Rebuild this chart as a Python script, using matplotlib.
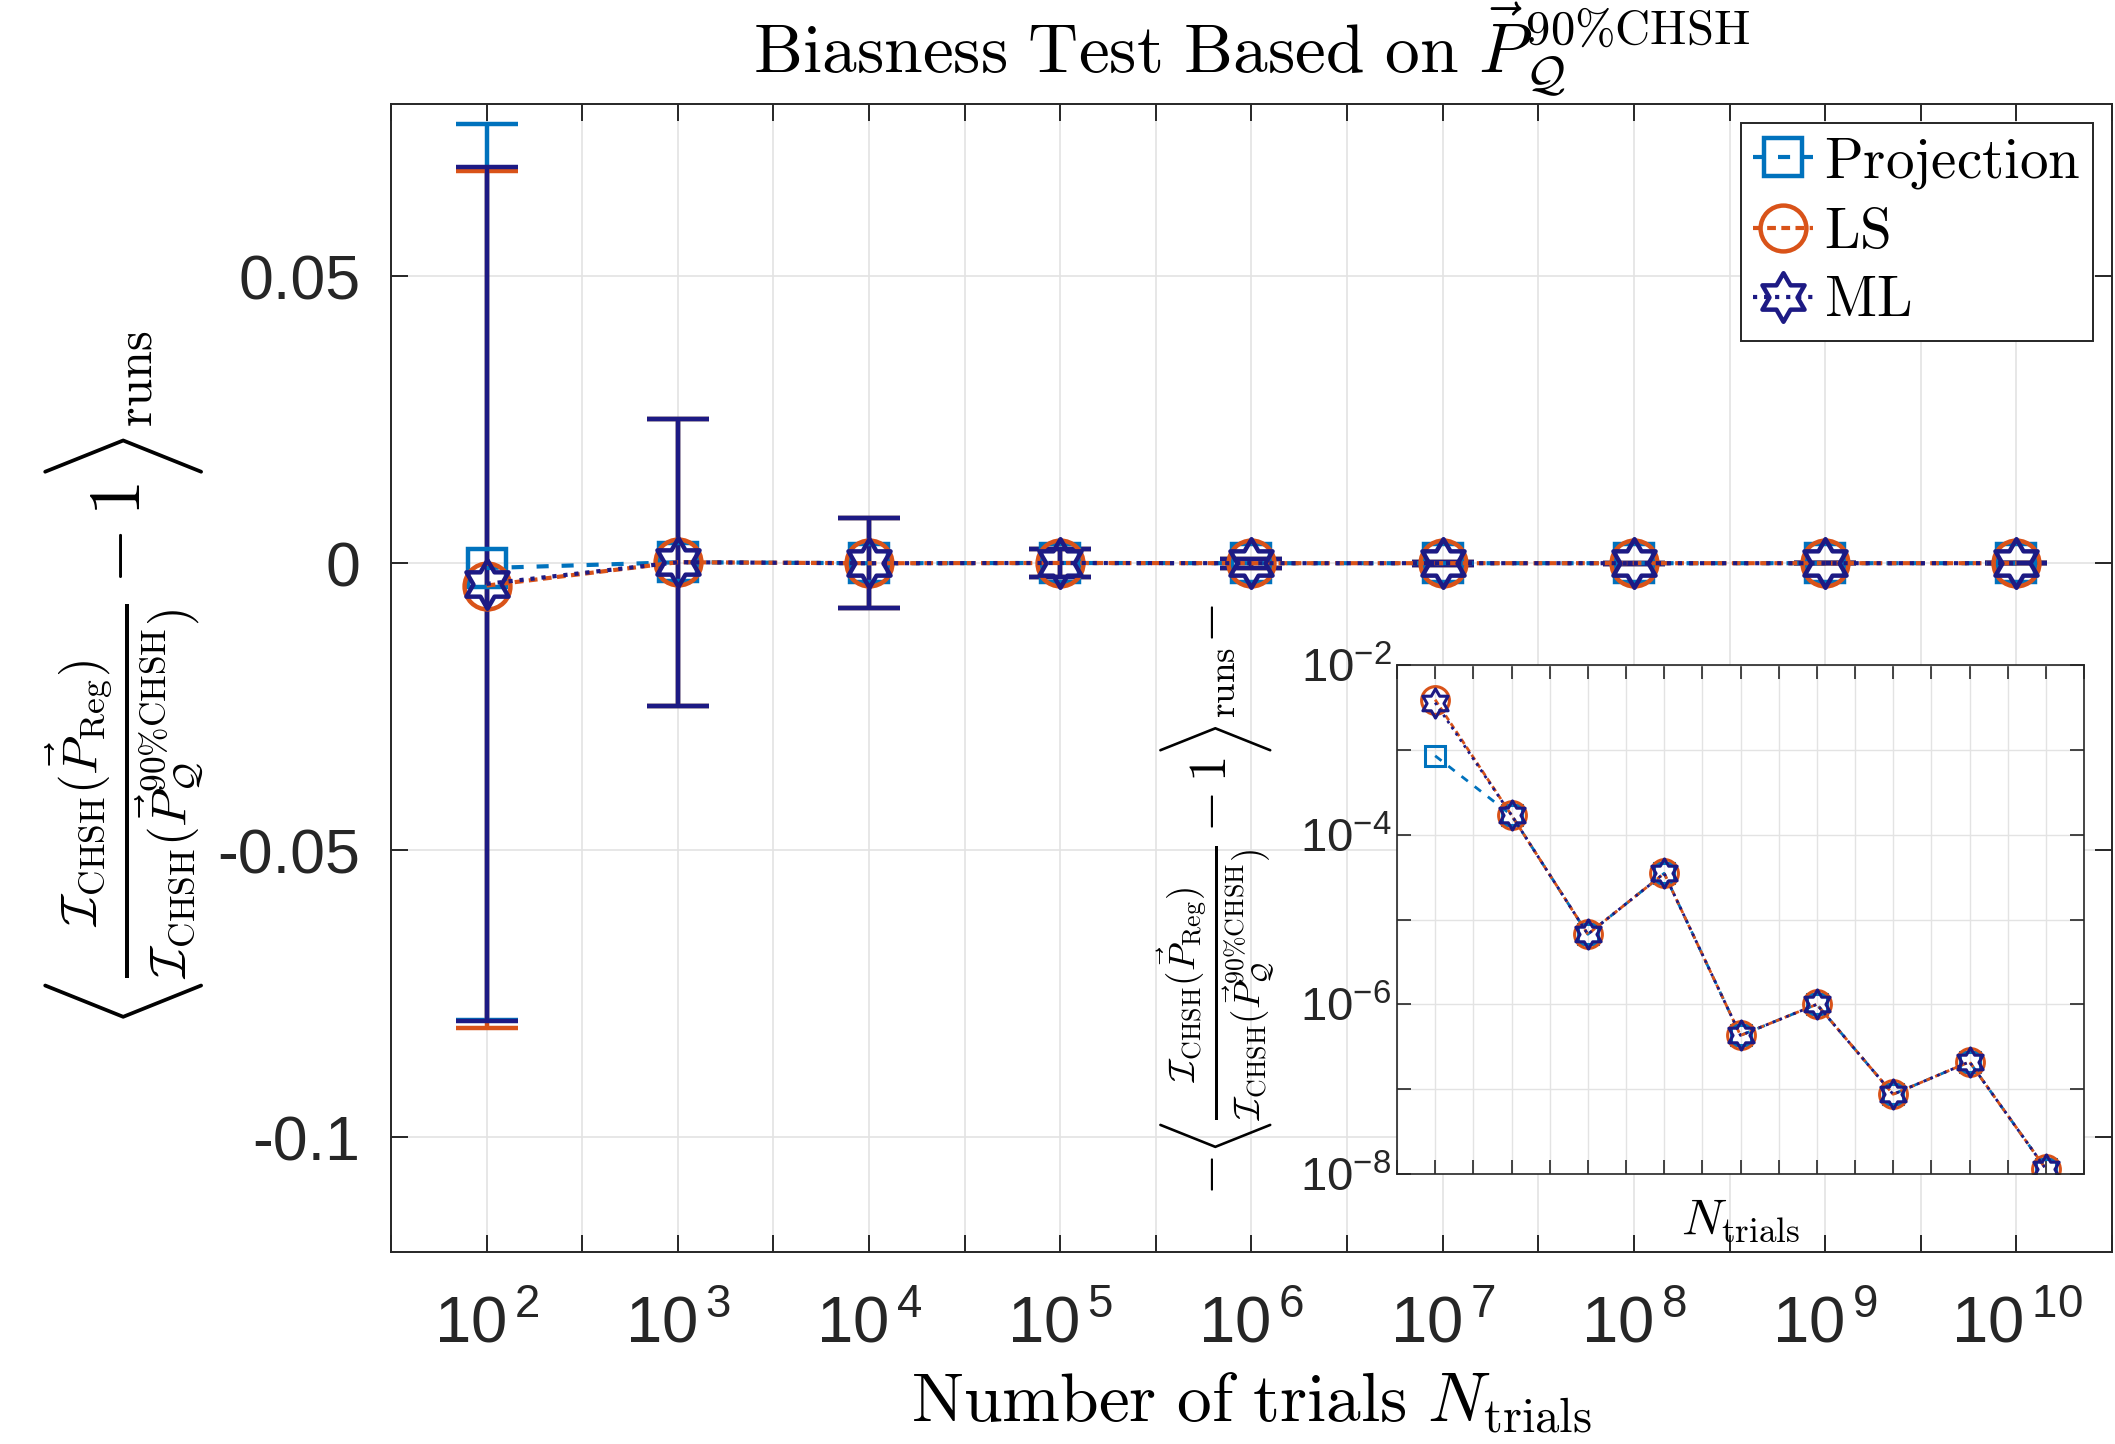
import numpy as np
import matplotlib
matplotlib.use("Agg")
import matplotlib.pyplot as plt
from matplotlib.path import Path
from matplotlib.ticker import FixedLocator, NullLocator

plt.rcParams['mathtext.fontset'] = 'cm'
plt.rcParams['mathtext.rm'] = 'Liberation Sans'
plt.rcParams['font.family'] = 'Liberation Sans'

# data
N = [1e2, 1e3, 1e4, 1e5, 1e6, 1e7, 1e8, 1e9, 1e10]

proj_mean = [-8.5e-4, 1.7e-4, -6.7e-6, 3.5e-5, -4.3e-7, 1.0e-6, -8.7e-8, 2.1e-7, -1.15e-8]
ls_mean = [-3.9e-3, 1.7e-4, -6.7e-6, 3.5e-5, -4.3e-7, 1.0e-6, -8.7e-8, 2.1e-7, -1.15e-8]
ml_mean = [-3.6e-3, 1.7e-4, -6.7e-6, 3.5e-5, -4.3e-7, 1.0e-6, -8.7e-8, 2.1e-7, -1.15e-8]

proj_err_lo = [0.0788, 0.025, 0.0078, 0.0025, 7.8e-4, 2.5e-4, 7.8e-5, 2.5e-5, 7.8e-6]
proj_err_hi = [0.0773, 0.025, 0.0078, 0.0025, 7.8e-4, 2.5e-4, 7.8e-5, 2.5e-5, 7.8e-6]
ls_err_lo = [0.0770, 0.0251, 0.0078, 0.0025, 7.8e-4, 2.5e-4, 7.8e-5, 2.5e-5, 7.8e-6]
ls_err_hi = [0.0723, 0.0249, 0.0078, 0.0025, 7.8e-4, 2.5e-4, 7.8e-5, 2.5e-5, 7.8e-6]
ml_err_lo = [0.0762, 0.0251, 0.0078, 0.0025, 7.8e-4, 2.5e-4, 7.8e-5, 2.5e-5, 7.8e-6]
ml_err_hi = [0.0727, 0.0249, 0.0078, 0.0025, 7.8e-4, 2.5e-4, 7.8e-5, 2.5e-5, 7.8e-6]

labels = ['Projection', 'LS', 'ML']
ytick_vals = [-0.1, -0.05, 0, 0.05]
ytick_text = ['-0.1', '-0.05', '0', '0.05']

c_proj = '#0072BD'
c_ls = '#D95319'
c_ml = '#1d1a84'
ls_proj = (0, (2.9, 3.1))
ls_ls = (0, (2.1, 1.3))
ls_ml = ':'

# six pointed star marker (MATLAB hexagram)
ang = np.deg2rad(90 + 30 * np.arange(12))
rad = np.where(np.arange(12) % 2 == 0, 1.0, 1 / np.sqrt(3))
verts = np.column_stack([rad * np.cos(ang), rad * np.sin(ang)])
verts = np.vstack([verts, verts[:1]])
hexagram = Path(verts, closed=True)

fig = plt.figure(figsize=(21.15 / 2, 14.44 / 2), dpi=200)
W, H = 2115, 1444
ax = fig.add_axes([391 / W, 1 - 1252 / H, (2112 - 391) / W, (1252 - 104) / H])

styles = [
    (proj_mean, proj_err_lo, proj_err_hi, c_proj, ls_proj, 's', 13.5),
    (ls_mean, ls_err_lo, ls_err_hi, c_ls, ls_ls, 'o', 16.5),
    (ml_mean, ml_err_lo, ml_err_hi, c_ml, ls_ml, hexagram, 17.5),
]
handles = []
for (m, lo, hi, c, ls, mk, ms), lab in zip(styles, labels):
    eb = ax.errorbar(N, m, yerr=[lo, hi], color=c, ls=ls, lw=1.5,
                     marker=mk, ms=ms, mfc='none', mec=c, mew=1.6,
                     elinewidth=1.6, capsize=11, capthick=1.6)
    handles.append(eb[0])

ax.set_xscale('log')
ax.set_xlim(10 ** 1.5, 10 ** 10.5)
ax.set_ylim(-0.12, 0.08)
ax.xaxis.set_major_locator(FixedLocator([10.0 ** k for k in range(2, 11)]))
ax.set_xticklabels([r'$10^{\,%d}$' % k for k in range(2, 11)], math_fontfamily='custom')
ax.xaxis.set_minor_locator(FixedLocator([10 ** (k + 0.5) for k in range(1, 11)]))
ax.set_yticks(ytick_vals)
ax.set_yticklabels(ytick_text)
ax.tick_params(which='both', direction='in', top=True, right=True, length=6,
               width=0.7, color='#262626', labelsize=22.5, labelcolor='#262626')
ax.tick_params(axis='x', which='major', labelsize=23.5, pad=15)
ax.tick_params(axis='y', which='major', pad=11)
ax.grid(True, which='both', color='#e3e3e3', lw=0.6)
ax.set_axisbelow(True)
for s in ax.spines.values():
    s.set_color('#262626')
    s.set_linewidth(0.7)

ax.set_xlabel(r'$\mathrm{Number\ of\ trials}\ N_{\mathrm{trials}}$', fontsize=25)
ax.xaxis.set_label_coords(0.5, -0.1315)
ax.xaxis.label.set_va('center')
ylab = (r'$\left\langle \frac{\mathcal{I}_{\mathrm{CHSH}}(\vec{P}_{\mathrm{Reg}})}'
        r'{\mathcal{I}_{\mathrm{CHSH}}(\vec{P}^{90\%\mathrm{CHSH}}_{\mathcal{Q}})} - 1 \right\rangle_{\mathrm{runs}}$')
ax.set_ylabel(ylab, fontsize=26)
ax.yaxis.set_label_coords(-0.155, 0.5)
ax.yaxis.label.set_va('center')

ax.text(0.5, 1.048, r'$\mathrm{Biasness\ Test\ Based\ on\ }\vec{P}_{\mathcal{Q}}^{90\%\mathrm{CHSH}}$',
        transform=ax.transAxes, ha='center', va='center', fontsize=25)

leg = ax.legend(handles, [r'$\mathrm{%s}$' % t for t in labels], loc='upper right',
                fontsize=20.5, numpoints=1, handlelength=1.05, handletextpad=0.2,
                borderaxespad=0.33, fancybox=False, framealpha=1,
                edgecolor='#262626', borderpad=0.22, labelspacing=0.26)
leg.get_frame().set_linewidth(0.7)

# inset with absolute values
axi = fig.add_axes([1397 / W, 1 - 1174 / H, (2084 - 1397) / W, (1174 - 665) / H])
axi.plot(N, np.abs(proj_mean), color=c_proj, ls=ls_proj, lw=1.0, marker='s', ms=7.5,
         mfc='none', mec=c_proj, mew=1.1)
axi.plot(N, np.abs(ls_mean), color=c_ls, ls=ls_ls, lw=1.0, marker='o', ms=10,
         mfc='none', mec=c_ls, mew=1.1)
axi.plot(N, np.abs(ml_mean), color=c_ml, ls=ls_ml, lw=1.0, marker=hexagram, ms=10.5,
         mfc='none', mec=c_ml, mew=1.1)
axi.set_xscale('log')
axi.set_yscale('log')
axi.set_xlim(10 ** 1.5, 10 ** 10.5)
axi.set_ylim(1e-8, 1e-2)
axi.xaxis.set_major_locator(FixedLocator([10 ** (k / 2) for k in range(3, 22)]))
axi.xaxis.set_minor_locator(NullLocator())
axi.set_xticklabels([])
axi.yaxis.set_major_locator(FixedLocator([10.0 ** k for k in range(-8, -1)]))
axi.yaxis.set_minor_locator(NullLocator())
axi.set_yticklabels([r'$10^{%d}$' % k if k % 2 == 0 else '' for k in range(-8, -1)],
                    math_fontfamily='custom')
axi.tick_params(which='both', direction='in', top=True, right=True, length=5,
                width=0.6, color='#262626', labelsize=17, labelcolor='#262626', pad=2)
axi.grid(True, which='major', color='#e3e3e3', lw=0.5)
axi.set_axisbelow(True)
for s in axi.spines.values():
    s.set_color('#262626')
    s.set_linewidth(0.6)
axi.set_xlabel(r'$N_{\mathrm{trials}}$', fontsize=18)
axi.xaxis.set_label_coords(0.5, -0.092)
axi.xaxis.label.set_va('center')
ylab_in = (r'$-\left\langle \frac{\mathcal{I}_{\mathrm{CHSH}}(\vec{P}_{\mathrm{Reg}})}'
           r'{\mathcal{I}_{\mathrm{CHSH}}(\vec{P}^{90\%\mathrm{CHSH}}_{\mathcal{Q}})} - 1 \right\rangle_{\mathrm{runs}}\!-$')
axi.set_ylabel(ylab_in, fontsize=19)
axi.yaxis.set_label_coords(-0.262, 0.54)
axi.yaxis.label.set_va('center')

fig.savefig('out.png', dpi=200)
